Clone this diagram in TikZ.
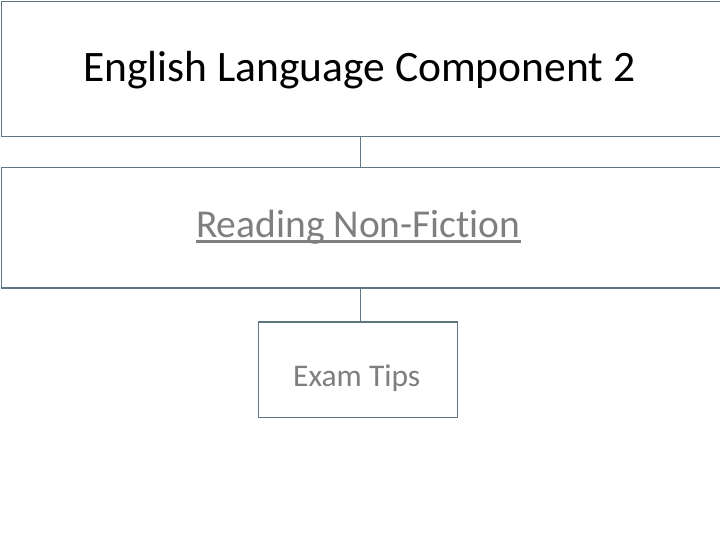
\documentclass[tikz,border=0pt]{standalone}
\usepackage{fontspec}
\setmainfont{Carlito}[Ligatures=NoCommon]
\definecolor{edgec}{HTML}{5F7682}
\definecolor{txtg}{HTML}{7F7F7F}
\begin{document}
\begin{tikzpicture}[x=1pt,y=-1pt,
  box/.style={draw=edgec,line width=1.2pt,fill=white,inner sep=0pt,anchor=north west},
  conn/.style={draw=edgec,line width=1pt},
  lbl/.style={inner sep=0pt,anchor=base west}]
\useasboundingbox (0,0) rectangle (720,540);
\node[box,minimum width=740pt,minimum height=135pt] (b1) at (0.8,0.8) {};
\node[box,minimum width=740pt,minimum height=120pt] (b2) at (0.8,167.3) {};
\node[box,minimum width=199pt,minimum height=95.5pt] (b3) at (257.5,321.3) {};
\node[lbl,font=\fontsize{43.5}{48}\selectfont] (t1) at (83,82) {English Language Component 2};
\node[lbl,font=\fontsize{39.5}{44}\selectfont,text=txtg] (t2) at (196,237.5) {Reading Non-Fiction};
\draw[txtg,line width=2.7pt] ([yshift=-4.2pt]t2.base west) -- ([yshift=-4.2pt]t2.base east);
\node[lbl,font=\fontsize{31.5}{36}\selectfont,text=txtg] (t3) at (293,386.7) {Exam Tips};
\coordinate (c1) at (360.3,0);
\draw[conn] (b1.south -| c1) -- (b2.north -| c1);
\draw[conn] (b2.south -| c1) -- (b3.north -| c1);
\end{tikzpicture}
\end{document}
